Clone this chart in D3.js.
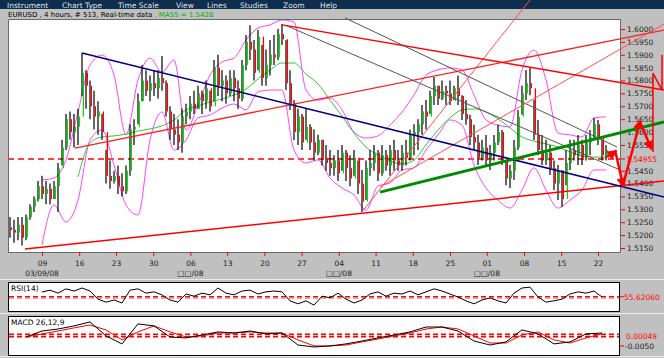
<!DOCTYPE html>
<html>
<head>
<meta charset="utf-8">
<style>
  body { margin: 0; background: #c0c0c0; }
  svg { display: block; font-family: "DejaVu Sans", sans-serif; }
</style>
</head>
<body>
<svg width="664" height="358"></svg>
<script src="https://d3js.org/d3.v7.min.js"></script>
<script>

var menuItems = ["Instrument", "Chart Type", "Time Scale", "View", "Lines", "Studies", "Zoom", "Help"];
var infoText = "EURUSD , 4 hours, # 513, Real-time data";
var maText = " , MA55 = 1.5428";

// price bars (4-hour bars, thinned), open = previous close
var firstOpen = 1.523;
var barHigh = [
  1.527,1.526,1.527,1.527,1.528,1.532,1.535,1.541,1.543,1.541,
  1.540,1.541,1.548,1.557,1.567,1.568,1.567,1.569,1.5907,1.584,
  1.580,1.576,1.572,1.567,1.553,1.549,1.545,1.547,1.544,1.547,
  1.563,1.565,1.575,1.586,1.584,1.582,1.584,1.584,1.5895,1.580,
  1.570,1.567,1.565,1.569,1.571,1.574,1.576,1.578,1.576,1.580,
  1.576,1.588,1.590,1.584,1.582,1.584,1.584,1.580,1.588,1.5977,
  1.6015,1.5957,1.5996,1.5938,1.592,1.5957,1.5977,1.600,1.6019,1.5957,
  1.584,1.5724,1.569,1.567,1.569,1.563,1.561,1.559,1.557,1.555,
  1.553,1.551,1.553,1.555,1.553,1.551,1.553,1.549,1.5453,1.549,
  1.553,1.555,1.553,1.555,1.553,1.555,1.557,1.553,1.555,1.557,
  1.561,1.563,1.565,1.5705,1.5724,1.576,1.5814,1.578,1.580,1.578,
  1.580,1.578,1.582,1.5743,1.5724,1.5667,1.5628,1.5589,1.557,1.5589,
  1.555,1.5589,1.5628,1.5608,1.549,1.5472,1.5569,1.5686,1.578,1.5841,
  1.5849,1.5724,1.5647,1.5589,1.557,1.555,1.549,1.5472,1.5453,1.553,
  1.557,1.557,1.5589,1.557,1.5589,1.5608,1.5655,1.5647,1.557,1.555
];
var barLow = [
  1.519,1.517,1.518,1.516,1.518,1.526,1.529,1.533,1.534,1.532,
  1.532,1.534,1.529,1.547,1.553,1.557,1.554,1.555,1.574,1.569,
  1.565,1.561,1.559,1.557,1.540,1.538,1.540,1.536,1.535,1.536,
  1.543,1.555,1.563,1.572,1.574,1.572,1.574,1.573,1.576,1.566,
  1.557,1.555,1.553,1.552,1.563,1.565,1.567,1.569,1.567,1.569,
  1.568,1.572,1.574,1.572,1.571,1.574,1.572,1.569,1.572,1.584,
  1.588,1.580,1.584,1.578,1.578,1.582,1.586,1.588,1.5938,1.5763,
  1.5686,1.5569,1.555,1.553,1.557,1.553,1.549,1.551,1.547,1.545,
  1.543,1.543,1.541,1.545,1.541,1.539,1.543,1.536,1.529,1.5336,
  1.543,1.545,1.541,1.543,1.545,1.543,1.545,1.545,1.545,1.547,
  1.549,1.551,1.553,1.559,1.561,1.567,1.5705,1.5705,1.5724,1.5705,
  1.5705,1.5724,1.5705,1.5647,1.5628,1.555,1.553,1.5472,1.549,1.5472,
  1.5453,1.549,1.555,1.5472,1.5394,1.5383,1.5414,1.553,1.5667,1.5724,
  1.5743,1.5569,1.551,1.5472,1.5472,1.5433,1.5375,1.5336,1.531,1.5394,
  1.5453,1.549,1.5472,1.5472,1.549,1.551,1.5569,1.555,1.549,1.549
];
var barClose = [
  1.522,1.521,1.524,1.519,1.527,1.531,1.534,1.539,1.536,1.538,
  1.534,1.539,1.546,1.554,1.565,1.560,1.562,1.566,1.583,1.578,
  1.570,1.566,1.568,1.560,1.543,1.541,1.543,1.539,1.537,1.545,
  1.561,1.562,1.572,1.580,1.576,1.579,1.577,1.581,1.579,1.568,
  1.561,1.559,1.556,1.566,1.568,1.571,1.569,1.575,1.572,1.577,
  1.570,1.585,1.578,1.580,1.575,1.581,1.577,1.573,1.586,1.595,
  1.592,1.583,1.597,1.581,1.586,1.590,1.589,1.598,1.596,1.579,
  1.571,1.560,1.566,1.556,1.562,1.556,1.552,1.557,1.550,1.548,
  1.546,1.549,1.544,1.552,1.546,1.542,1.550,1.540,1.533,1.546,
  1.548,1.552,1.544,1.551,1.547,1.553,1.549,1.547,1.552,1.550,
  1.559,1.560,1.563,1.568,1.566,1.574,1.578,1.573,1.576,1.575,
  1.572,1.577,1.574,1.567,1.565,1.558,1.556,1.550,1.554,1.549,
  1.552,1.556,1.560,1.550,1.542,1.545,1.554,1.566,1.575,1.579,
  1.577,1.559,1.553,1.549,1.552,1.546,1.540,1.545,1.534,1.548,
  1.553,1.551,1.555,1.550,1.556,1.558,1.563,1.558,1.551,1.553
];

// MA55, one value every 3 bars from bar 17
var maStart = 17, maStep = 3;
var maValues = [
  1.5426,1.5557,1.5581,1.5585,1.5592,1.5604,1.5612,1.5624,1.5647,1.5686,
  1.5701,1.5717,1.5728,1.5744,1.5767,1.5806,1.5841,1.5868,1.5868,1.5825,
  1.5787,1.5724,1.5662,1.5596,1.5542,1.5511,1.5488,1.5476,1.5491,1.5550,
  1.5608,1.5655,1.5686,1.5690,1.5678,1.5651,1.5616,1.5581,1.5565,1.5554,
  1.5542,1.5523,1.5507,1.5503,1.5503
];

// bands, one value every 3 bars from bar 8
var bandStart = 8, bandStep = 3;
var bandUpper = [
  1.5414,1.5422,1.5492,1.5678,1.5860,1.5899,1.5821,1.5589,1.5802,1.5887,
  1.5833,1.5880,1.5608,1.5705,1.5821,1.5872,1.5887,1.5957,1.6004,1.6016,
  1.6035,1.6027,1.5763,1.5724,1.5732,1.5686,1.5600,1.5577,1.5585,1.5627,
  1.5678,1.5744,1.5821,1.5841,1.5849,1.5841,1.5744,1.5647,1.5627,1.5620,
  1.5841,1.5918,1.5802,1.5596,1.5589,1.5581,1.5655,1.5659
];
var bandLower = [
  1.5162,1.5317,1.5251,1.5336,1.5569,1.5608,1.5472,1.5317,1.5278,1.5569,
  1.5678,1.5530,1.5569,1.5655,1.5666,1.5693,1.5709,1.5686,1.5756,1.5763,
  1.5763,1.5530,1.5480,1.5492,1.5422,1.5383,1.5356,1.5297,1.5391,1.5402,
  1.5453,1.5461,1.5530,1.5589,1.5647,1.5627,1.5472,1.5383,1.5336,1.5305,
  1.5375,1.5461,1.5375,1.5305,1.5336,1.5375,1.5453,1.5453
];

// drawn lines, [bar, price] end points
var blueLine = [[18, 1.5907], [163.5, 1.5348]];
var supportLine = [[3.75, 1.5146], [163.5, 1.5410]];
var risingLine = [[16.25, 1.5538], [163.5, 1.5996]];
var peakLine = [[68, 1.6016], [163.5, 1.5763]];
var greenLine = [[92.5, 1.5367], [163.5, 1.5639]];
var greyLines = [
  [[69.25, 1.6012], [152.5, 1.5453]],
  [[83.75, 1.6043], [151.75, 1.5542]]
];
var thinRedLines = [
  [[88, 1.5290], [130, 1.6113]],
  [[92.5, 1.5387], [163.5, 1.6019]]
];
var arrowSegs = [
  [[149.25, 1.5503], [151.25, 1.5523]],
  [[151.25, 1.5530], [153.25, 1.5394]],
  [[153.25, 1.5394], [157.5, 1.5639]],
  [[157.5, 1.5639], [160.25, 1.5538]]
];
var zigzag = [[160.75, 1.5523], [160.75, 1.5829], [163, 1.5763], [163, 1.5899]];
var lastMark = 1.54955;

var priceTicks = [1.515, 1.520, 1.525, 1.530, 1.535, 1.540, 1.545, 1.555, 1.560,
                  1.565, 1.570, 1.575, 1.580, 1.585, 1.590, 1.595, 1.600];
var weekTicks = [8, 17.3, 26.5, 35.8, 45.1, 54.3, 63.6, 72.9, 82.2, 91.4, 100.7, 110, 119.2, 128.5, 137.8, 147];
var weekLabels = ["09","16","23","30","06","13","20","27","04","11","18","25","01","08","15","22"];
var monthTicks = [8, 45.1, 82.2, 119.2];
var monthLabels = ["03/09/08", "□□/08", "□□/08", "□□/08"];

// RSI, one value every 2 bars from bar 8
var rsiStart = 8, rsiStep = 2;
var rsiValues = [
  66.7,71,64,74,69,76,69,50,43,48,
  41,71,74,64,67,60,48,43,62,57,
  64,60,76,64,60,69,71,62,67,69,
  67,46,39,46,36,57,53,64,50,41,
  48,62,67,57,64,62,69,60,67,74,
  69,62,55,46,39,48,53,46,41,64,
  76,78,55,43,46,50,62,67,64,69,
  55
];
var rsiLevels = [55.6206, 51.5];
var rsiLabel = "55.62060";

// MACD 26,12,9, one value every 4 bars from bar 4
var macdStart = 4, macdStep = 4;
var macdValues = [
  -0.0001,0.0032,0.0043,0.0060,0.0082,0.0005,-0.0039,0.0071,0.0060,-0.0001,
  -0.0006,0.0010,0.0027,0.0021,0.0032,0.0016,0.0021,-0.0045,-0.0056,-0.0050,
  -0.0039,-0.0023,-0.0006,0.0010,0.0027,0.0054,0.0054,0.0032,-0.0023,-0.0045,
  -0.0028,0.0038,0.0016,-0.0039,-0.0028,0.0016,0.0021
];
var signalValues = [
  -0.0001,0.0016,0.0032,0.0049,0.0065,0.0038,-0.0017,0.0027,0.0060,0.0027,
  -0.0001,0.0005,0.0021,0.0021,0.0027,0.0021,0.0021,-0.0017,-0.0050,-0.0050,
  -0.0045,-0.0028,-0.0012,0.0005,0.0021,0.0043,0.0054,0.0043,0.0005,-0.0034,
  -0.0034,0.0010,0.0027,-0.0017,-0.0034,-0.0006,0.0016
];
var macdLevels = [0.0014, 0.0001];
var macdMark = 0.00049, macdTick = -0.005;

var svg = d3.select("svg");
var plotL = 8, plotT = 19, plotR = 620, plotB = 252;

var x = d3.scaleLinear().domain([0, 149]).range([10, 606]);
var y = d3.scaleLinear().domain([1.515, 1.600]).range([248, 29]);

svg.append("rect").attr("width", 664).attr("height", 358).attr("fill", "#c0c0c0");

// menu + info bar
svg.append("rect").attr("width", 664).attr("height", 9).attr("fill", "#0f2d4d");
var menuX = [7, 62, 118, 176, 207, 240, 283, 320];
svg.selectAll("text.menu").data(menuItems).enter().append("text")
  .attr("class", "menu")
  .attr("x", function(d, i) { return menuX[i]; })
  .attr("y", 7.5)
  .attr("font-size", 7.5)
  .attr("fill", "#dde3ea")
  .text(function(d) { return d; });

var info = svg.append("text").attr("x", 8).attr("y", 16.5).attr("font-size", 7);
info.append("tspan").attr("fill", "#000").text(infoText);
info.append("tspan").attr("fill", "#00b000").text(maText);

// plot area
svg.append("rect").attr("x", plotL).attr("y", plotT)
  .attr("width", plotR - plotL).attr("height", plotB - plotT).attr("fill", "#fff");
svg.append("path")
  .attr("d", "M" + (plotL + 0.5) + "," + plotB + "V" + (plotT + 0.5) + "H" + (plotR + 0.5) + "V" + (plotB + 0.5) + "H" + plotL)
  .attr("fill", "none").attr("stroke", "#6a6a6a");

svg.append("clipPath").attr("id", "clip").append("rect")
  .attr("x", plotL + 1).attr("y", plotT + 1).attr("width", plotR - plotL - 1).attr("height", plotB - plotT - 1);
var g = svg.append("g").attr("clip-path", "url(#clip)");

g.append("line")
  .attr("x1", plotL).attr("x2", plotR)
  .attr("y1", y(lastMark)).attr("y2", y(lastMark))
  .attr("stroke", "#ff0000").attr("stroke-width", 1.5).attr("stroke-dasharray", "6,4");

function seriesLine(start, step) {
  return d3.line()
    .x(function(d, k) { return x(start + k * step); })
    .y(function(d) { return y(d); })
    .curve(d3.curveMonotoneX);
}
[bandUpper, bandLower].forEach(function(b) {
  g.append("path").datum(b)
    .attr("d", seriesLine(bandStart, bandStep))
    .attr("fill", "none").attr("stroke", "#ff44ff").attr("stroke-width", 1);
});
g.append("path").datum(maValues)
  .attr("d", seriesLine(maStart, maStep))
  .attr("fill", "none").attr("stroke", "#33cc33").attr("stroke-width", 1);

var bars = barClose.map(function(c, i) {
  return { i: i, h: barHigh[i], l: barLow[i], c: c, o: i ? barClose[i - 1] : firstOpen };
});
g.selectAll("line.wick").data(bars).enter().append("line")
  .attr("class", "wick")
  .attr("x1", function(d) { return x(d.i); }).attr("x2", function(d) { return x(d.i); })
  .attr("y1", function(d) { return y(d.h); }).attr("y2", function(d) { return y(d.l); })
  .attr("stroke", "#000").attr("stroke-width", 1.2);
g.selectAll("line.body").data(bars).enter().append("line")
  .attr("class", "body")
  .attr("x1", function(d) { return x(d.i) + 1.4; }).attr("x2", function(d) { return x(d.i) + 1.4; })
  .attr("y1", function(d) { return y(d.o); }).attr("y2", function(d) { return y(d.c); })
  .attr("stroke", function(d) { return d.c >= d.o ? "#00e000" : "#ff0000"; })
  .attr("stroke-width", 1.3);

// price scale
var yAxis = svg.append("g")
  .attr("transform", "translate(" + (plotR + 1) + ",0)")
  .call(d3.axisRight(y).tickValues(priceTicks).tickSize(4).tickPadding(2).tickFormat(d3.format(".4f")));
yAxis.select(".domain").remove();
yAxis.attr("font-family", null).attr("font-size", 7.5);
yAxis.selectAll(".tick line").attr("stroke", "#ff0000");
yAxis.selectAll(".tick text").attr("fill", "#222");
svg.append("line").attr("x1", plotR + 1).attr("x2", plotR + 5)
  .attr("y1", y(lastMark)).attr("y2", y(lastMark)).attr("stroke", "#ff0000");
svg.append("text").attr("x", plotR + 6).attr("y", y(lastMark) + 3)
  .attr("font-size", 7.5).attr("fill", "#ff0000").text(lastMark.toFixed(5));

// time scale
var xAxis = svg.append("g")
  .attr("transform", "translate(0," + plotB + ")")
  .call(d3.axisBottom(x).tickValues(weekTicks).tickSize(4).tickPadding(5)
    .tickFormat(function(d, i) { return weekLabels[i]; }));
xAxis.select(".domain").remove();
xAxis.attr("font-family", null).attr("font-size", 7.5);
xAxis.selectAll(".tick line").attr("stroke", "#ff0000");
xAxis.selectAll(".tick text").attr("fill", "#222");
svg.selectAll("text.month").data(monthLabels).enter().append("text")
  .attr("class", "month")
  .attr("x", function(d, i) { return x(monthTicks[i]); })
  .attr("y", 275.5)
  .attr("text-anchor", "middle").attr("font-size", 7.5).attr("fill", "#222")
  .text(function(d) { return d; });

// drawn lines, on top of everything and running over the scale
var seg = d3.line().x(function(d) { return x(d[0]); }).y(function(d) { return y(d[1]); });
var lines = svg.append("g").attr("fill", "none");
greyLines.forEach(function(l) {
  lines.append("path").attr("d", seg(l)).attr("stroke", "#555").attr("stroke-width", 1);
});
thinRedLines.forEach(function(l) {
  lines.append("path").attr("d", seg(l)).attr("stroke", "#ff5050").attr("stroke-width", 1);
});
lines.append("path").attr("d", seg(risingLine)).attr("stroke", "#ff2020").attr("stroke-width", 1.3);
lines.append("path").attr("d", seg(peakLine)).attr("stroke", "#ff0000").attr("stroke-width", 1.5);
lines.append("path").attr("d", seg(supportLine)).attr("stroke", "#ff0000").attr("stroke-width", 1.5);
lines.append("path").attr("d", seg(blueLine)).attr("stroke", "#000080").attr("stroke-width", 1.5);
lines.append("path").attr("d", seg(greenLine)).attr("stroke", "#008a00").attr("stroke-width", 3);

svg.append("defs").append("marker")
  .attr("id", "head").attr("viewBox", "0 0 10 10").attr("refX", 7).attr("refY", 5)
  .attr("markerWidth", 4).attr("markerHeight", 4).attr("orient", "auto")
  .append("path").attr("d", "M0,0L10,5L0,10z").attr("fill", "#ff0000");
arrowSegs.forEach(function(s) {
  lines.append("path").attr("d", seg(s)).attr("stroke", "#ff0000").attr("stroke-width", 2.5)
    .attr("marker-end", "url(#head)");
});
lines.append("path").attr("d", seg(zigzag)).attr("stroke", "#ff0000").attr("stroke-width", 1.5);

// separators
[279.5, 313.5, 356.5].forEach(function(yy) {
  svg.append("line").attr("x1", 0).attr("x2", 664).attr("y1", yy).attr("y2", yy)
    .attr("stroke", "#ececec");
});

// RSI panel
var rsiY = d3.scaleLinear().domain([20, 90]).range([312, 282]);
svg.append("rect").attr("x", plotL + 0.5).attr("y", 282.5).attr("width", 611).attr("height", 29)
  .attr("fill", "#fff").attr("stroke", "#000");
rsiLevels.forEach(function(v, k) {
  svg.append("line").attr("x1", plotL + 1).attr("x2", plotR - 1)
    .attr("y1", rsiY(v)).attr("y2", rsiY(v))
    .attr("stroke", k ? "#ff9a9a" : "#ff0000").attr("stroke-width", k ? 1 : 1.3)
    .attr("stroke-dasharray", "5,3");
});
svg.append("path").datum(rsiValues)
  .attr("d", d3.line().x(function(d, k) { return x(rsiStart + k * rsiStep); }).y(function(d) { return rsiY(d); }))
  .attr("fill", "none").attr("stroke", "#000").attr("stroke-width", 1);
svg.append("text").attr("x", 11).attr("y", 291).attr("font-size", 7.5).attr("fill", "#000").text("RSI(14)");
svg.append("line").attr("x1", plotR).attr("x2", plotR + 4)
  .attr("y1", rsiY(rsiLevels[0])).attr("y2", rsiY(rsiLevels[0])).attr("stroke", "#ff0000");
svg.append("text").attr("x", plotR + 4).attr("y", rsiY(rsiLevels[0]) + 3)
  .attr("font-size", 7.5).attr("fill", "#ff0000").text(rsiLabel);

// MACD panel
var macdY = d3.scaleLinear().domain([-0.0100, 0.0109]).range([355, 317]);
svg.append("rect").attr("x", plotL + 0.5).attr("y", 316.5).attr("width", 611).attr("height", 39)
  .attr("fill", "#fff").attr("stroke", "#000");
macdLevels.forEach(function(v) {
  svg.append("line").attr("x1", plotL + 1).attr("x2", plotR - 1)
    .attr("y1", macdY(v)).attr("y2", macdY(v))
    .attr("stroke", "#ff0000").attr("stroke-width", 1.6).attr("stroke-dasharray", "5,3");
});
var macdLine = function(arr) {
  return d3.line().x(function(d, k) { return x(macdStart + k * macdStep); })
    .y(function(d) { return macdY(d); })(arr);
};
svg.append("path").attr("d", macdLine(signalValues))
  .attr("fill", "none").attr("stroke", "#ff0000").attr("stroke-width", 1);
svg.append("path").attr("d", macdLine(macdValues))
  .attr("fill", "none").attr("stroke", "#000").attr("stroke-width", 1);
svg.append("text").attr("x", 11).attr("y", 325).attr("font-size", 7.5).attr("fill", "#000").text("MACD 26,12,9");
svg.append("text").attr("x", plotR + 6).attr("y", macdY(macdMark) + 3)
  .attr("font-size", 7.5).attr("fill", "#ff0000").text(macdMark.toFixed(5));
svg.append("line").attr("x1", plotR).attr("x2", plotR + 4)
  .attr("y1", macdY(macdTick)).attr("y2", macdY(macdTick)).attr("stroke", "#ff0000");
svg.append("text").attr("x", plotR + 5).attr("y", macdY(macdTick) + 3)
  .attr("font-size", 7.5).attr("fill", "#222").text(macdTick.toFixed(4));

</script>
</body>
</html>
